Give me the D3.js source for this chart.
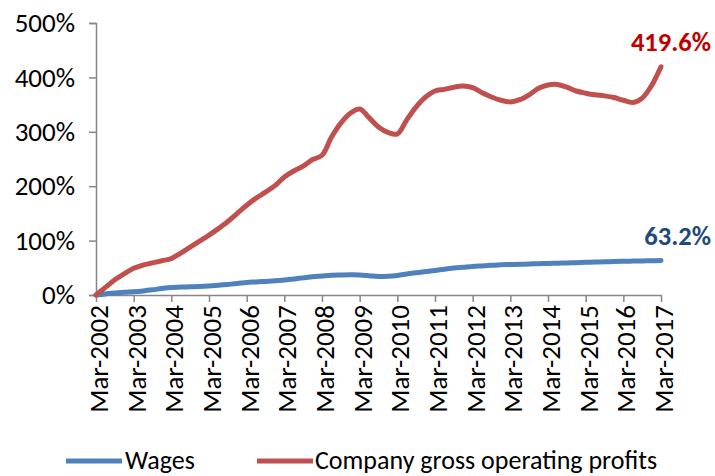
<!DOCTYPE html>
<html>
<head>
<meta charset="utf-8">
<script src="https://cdn.jsdelivr.net/npm/d3@7"></script>
<style>
  html, body { margin: 0; padding: 0; background: #fff; }
  svg { display: block; }
  text { font-family: Carlito, Calibri, Lato, "Open Sans", sans-serif; }
</style>
</head>
<body>
<svg id="chart" width="715" height="476"></svg>
<script>
// ---- Data (quarterly, Mar-2002 .. Mar-2017), cumulative % growth ----
const years = d3.range(2002, 2018);
const quarterLabels = [];
years.forEach(yr => ["Mar", "Jun", "Sep", "Dec"].forEach(m => {
  if (yr < 2017 || m === "Mar") quarterLabels.push(m + "-" + yr);
}));
const tickLabels = years.map(yr => "Mar-" + yr);
const yTicks = [0, 100, 200, 300, 400, 500];

const wages = [
  0, 2, 3.5, 5, 6, 7.5, 9.5, 12, 14, 14.5, 15, 15.5, 16.5, 18, 19.5, 21,
  23, 24, 25, 26, 27.5, 29.5, 31.5, 33.5, 35, 36.5, 36.8, 37, 36.8, 35.5, 34, 34.5,
  36, 38.5, 41, 43, 45, 47.5, 49.5, 51, 52.5, 53.5, 54.5, 55.5, 56, 56.5, 57, 57.5,
  58, 58.5, 59, 59.5, 60, 60.5, 61, 61.5, 62, 62.3, 62.6, 62.9, 63.2
];
const profits = [
  0, 14, 28, 39, 49, 55, 59, 63, 67, 77, 88, 99, 110, 122, 135, 150,
  165, 178, 189, 201, 217, 228, 237, 249, 257, 290, 316, 334, 342, 326, 309, 299,
  296, 322, 346, 364, 375, 378, 382, 384, 381, 372, 364, 358, 355, 359, 368, 380,
  386, 387, 382, 375, 371, 368, 366, 363, 358, 354, 362, 385, 419.6
];
const seriesNames = ["Wages", "Company gross operating profits"];
const seriesColors = ["#4F81BD", "#C0504D"];
const endLabels = ["63.2%", "419.6%"];
const endLabelColors = ["#1F497D", "#C00000"];

// ---- Layout ----
const svg = d3.select("#chart");
const mLeft = 96, mRight = 661, mTop = 23, mBottom = 295;

const x = d3.scalePoint().domain(quarterLabels).range([mLeft, mRight]);
const y = d3.scaleLinear().domain([0, 500]).range([mBottom, mTop]);

const axisColor = "#868686";
const fontFam = "Carlito, Calibri, Lato, sans-serif";

// Y axis
const yAxis = svg.append("g").attr("transform", `translate(${mLeft},0)`)
  .call(d3.axisLeft(y).tickValues(yTicks).tickSize(7).tickPadding(14)
    .tickFormat(d => d + "%"));
yAxis.select(".domain").attr("stroke", axisColor).attr("stroke-width", 1.5);
yAxis.selectAll(".tick line").attr("stroke", axisColor).attr("stroke-width", 1.5);
yAxis.selectAll(".tick text").attr("font-size", 27).attr("fill", "#000")
  .style("font-family", fontFam);

// X axis
const xAxis = svg.append("g").attr("transform", `translate(0,${mBottom})`)
  .call(d3.axisBottom(x).tickValues(tickLabels).tickSize(7).tickSizeOuter(0)
    .tickFormat(d => d));
xAxis.select(".domain").attr("stroke", axisColor).attr("stroke-width", 1.5);
xAxis.selectAll(".tick line").attr("stroke", axisColor).attr("stroke-width", 1.5);
xAxis.selectAll(".tick text")
  .attr("font-size", 27).attr("fill", "#000")
  .style("font-family", fontFam)
  .attr("text-anchor", "end")
  .attr("transform", "rotate(-90)")
  .attr("x", -10).attr("y", 2).attr("dy", "0.35em");

// Lines
const line = d3.line()
  .x((d, i) => x(quarterLabels[i]))
  .y(d => y(d))
  .curve(d3.curveCatmullRom.alpha(0.5));

[wages, profits].forEach((s, k) => {
  svg.append("path").datum(s)
    .attr("fill", "none")
    .attr("stroke", seriesColors[k])
    .attr("stroke-width", 5)
    .attr("stroke-linejoin", "round")
    .attr("stroke-linecap", "round")
    .attr("d", line);
});

// End labels
[wages, profits].forEach((s, k) => {
  const last = s[s.length - 1];
  svg.append("text")
    .attr("x", 711)
    .attr("y", y(last) - 16)
    .attr("text-anchor", "end")
    .attr("font-size", 26.5)
    .attr("font-weight", "bold")
    .attr("fill", endLabelColors[k])
    .text(endLabels[k]);
});

// Legend
const legendY = 461;
const legendItems = [{x1: 66, x2: 122, tx: 125}, {x1: 257, x2: 313, tx: 315}];
legendItems.forEach((it, k) => {
  svg.append("line")
    .attr("x1", it.x1).attr("x2", it.x2).attr("y1", legendY).attr("y2", legendY)
    .attr("stroke", seriesColors[k]).attr("stroke-width", 5);
  svg.append("text")
    .attr("x", it.tx).attr("y", legendY).attr("dy", "0.3em")
    .attr("font-size", 26).attr("fill", "#000")
    .text(seriesNames[k]);
});
</script>
</body>
</html>
